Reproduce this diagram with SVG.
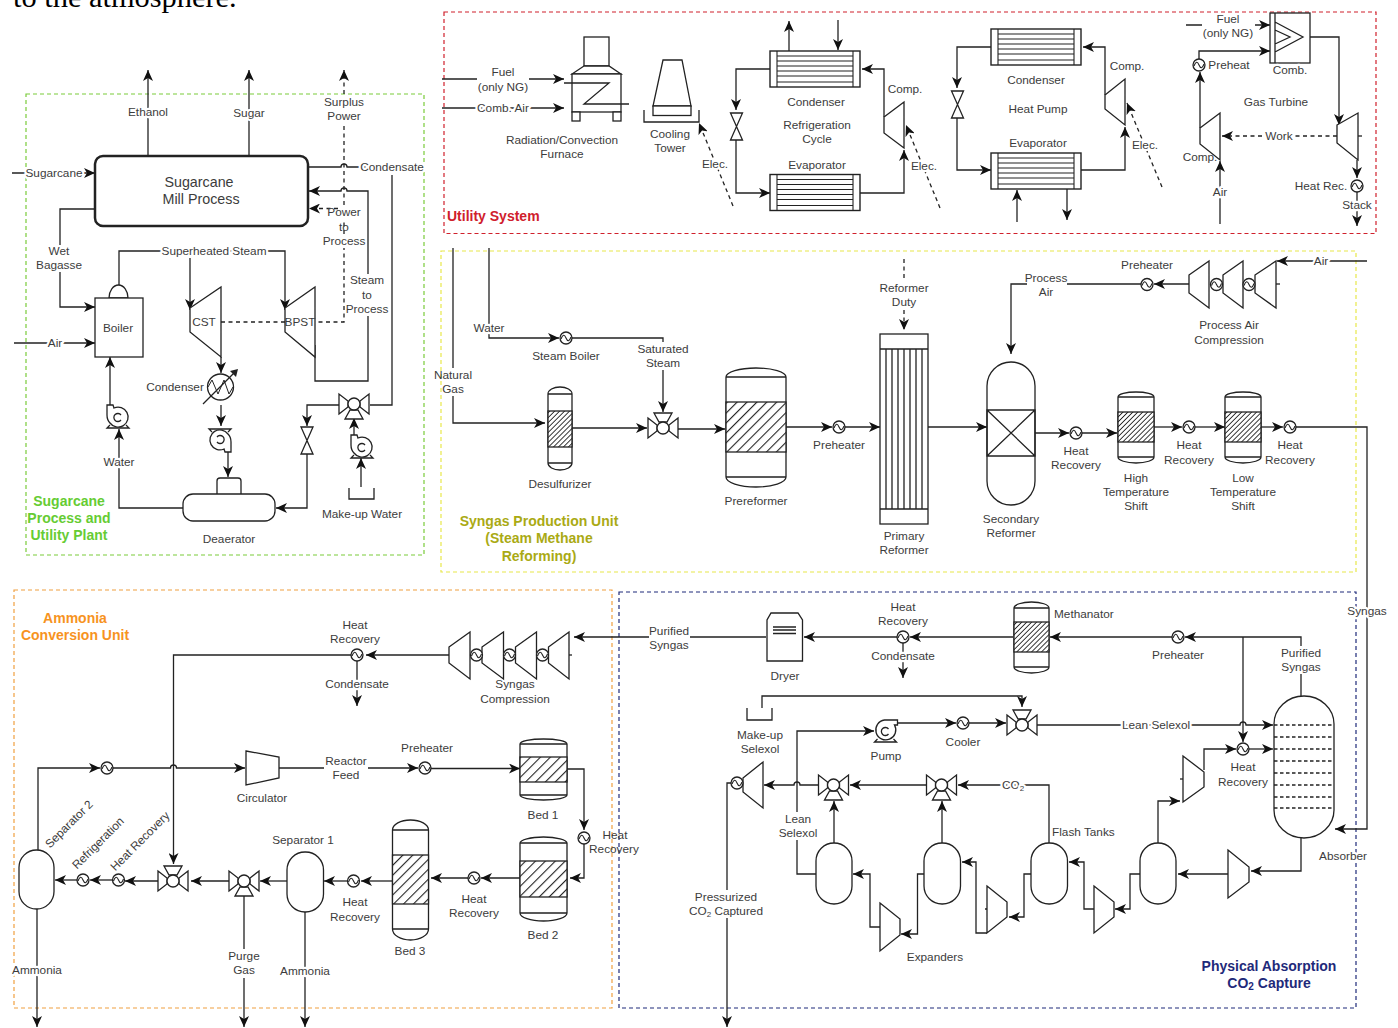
<svg xmlns="http://www.w3.org/2000/svg" width="1398" height="1028" viewBox="0 0 1398 1028">
<style>
text{font-family:"Liberation Sans",Arial,sans-serif;fill:#3c3c3c;font-size:11.8px;text-anchor:middle;dominant-baseline:central;stroke:#fff;stroke-width:4.5px;paint-order:stroke;stroke-linejoin:round}
text.n{stroke:none}
text.b{font-weight:bold;font-size:14px;stroke:none}
text.s{text-anchor:start}
.box{fill:none;stroke-width:1.2;stroke-dasharray:4 3}
.c{fill:none;stroke:#222;stroke-width:1.3}
.a{marker-end:url(#arr)}
.d{stroke-dasharray:4 3.5}
.g,.g *{fill:#fff;stroke:#222;stroke-width:1.3}
.l{fill:none;stroke:#222;stroke-width:1.3}
.hb{fill:url(#hatch);stroke:#222;stroke-width:1.3}
.hs{fill:url(#hatchS);stroke:#222;stroke-width:1.3}
</style>
<defs>
<marker id="arr" markerUnits="userSpaceOnUse" markerWidth="11" markerHeight="10" viewBox="0 0 11 10" refX="11" refY="5" orient="auto"><path d="M0,0L11,5L0,10L3,5Z" fill="#111"/></marker>
<pattern id="hatch" patternUnits="userSpaceOnUse" width="7" height="7" patternTransform="rotate(45)"><rect width="7" height="7" fill="#fff"/><rect width="1.1" height="7" fill="#222"/></pattern>
<pattern id="hatchS" patternUnits="userSpaceOnUse" width="3.5" height="3.5" patternTransform="rotate(45)"><rect width="3.5" height="3.5" fill="#fff"/><rect width="0.9" height="3.5" fill="#222"/></pattern>
<g id="hx"><circle r="6" fill="#fff" stroke="#222" stroke-width="1.3"/><path d="M-5,1Q-2.5,-6 0,0T5,-1" fill="none" stroke="#222" stroke-width="1.1"/></g>
<g id="v3"><path d="M-15,-10L-6,-3V3L-15,10ZM15,-10L6,-3V3L15,10Z" fill="#fff" stroke="#222" stroke-width="1.3"/><path d="M-9,-15H9L4,-6H-4Z" fill="#fff" stroke="#222" stroke-width="1.3"/><circle r="6" fill="#fff" stroke="#222" stroke-width="1.3"/></g>
<path id="gate" d="M-6,-13.5H6L-6,13.5H6Z" fill="#fff" stroke="#222" stroke-width="1.3"/>
<g id="pump" fill="#fff" stroke="#222" stroke-width="1.3"><path d="M-8,8L-11,11H11L8,8"/><path d="M-11,-12H-5L-4,-9A10,10 0 1 1 -8,6Q-11,3 -11,-2Z"/><path d="M3,-2A4,4 0 1 0 3,3" fill="none"/></g>
<g id="pumpH" fill="#fff" stroke="#222" stroke-width="1.3"><path d="M-8,8L-11,11H11L8,8"/><path d="M12,-11V-6H9A10,10 0 1 1 -1,-11Z"/><path d="M3,-2A4,4 0 1 0 3,3" fill="none"/></g>
<g id="stx"><rect width="90" height="36" fill="#fff" stroke="#222" stroke-width="1.4"/><path d="M7,0V36M83,0V36M7,5H83M7,10H83M7,15H83M7,20H83M7,25H83M7,31H83" stroke="#222" stroke-width="1.1" fill="none"/></g>
</defs>
<rect width="1398" height="1028" fill="#fff"/>
<text class="n s" x="13" y="-3" style="font-family:'Liberation Serif',serif;font-size:30.400px;fill:#000">to the atmosphere.</text>

<g id="unit-boxes">
<rect class="box" x="26" y="94" width="398" height="461" stroke="#7acb3a"/>
<rect class="box" x="444" y="12" width="932" height="221.500" stroke="#d0202c"/>
<rect class="box" x="441" y="251" width="915" height="321" stroke="#e8e84a"/>
<rect class="box" x="14" y="590" width="598" height="418" stroke="#f0a040"/>
<rect class="box" x="619" y="592" width="737" height="416" stroke="#1f2a7a"/>
</g>

<g id="connectors">
<path class="c a" d="M148,155V70"/>
<path class="c a" d="M249,155V70"/>
<path class="c d a" d="M221,322H344V248M344,234V221M344,205V124M344,94V70"/>
<path class="c d a" d="M338,208.500H309"/>
<path class="c" d="M308,167H341a3,3 0 0 1 6,0H390M392,175V405H370"/>
<path class="c a" d="M315,345V381H368V316M368,274V191H347a3,3 0 0 0 -6,0H309"/>
<path class="c a" d="M12,173H95"/>
<path class="c a" d="M95,209H60V245M60,272V307H95"/>
<path class="c a" d="M119,285V251H285V310"/>
<path class="c a" d="M190,258V310"/>
<path class="c a" d="M14,343H95"/>
<path class="c a" d="M221,357V373"/>
<path class="c a" d="M221,405V426"/>
<path class="c a" d="M228,451V477"/>
<path class="c a" d="M183,508H119V429"/>
<path class="c a" d="M110,405V357"/>
<path class="c a" d="M339,405H307V426"/>
<path class="c a" d="M307,454V508H276"/>
<path class="c a" d="M354,435V418"/>
<path class="c a" d="M361,487V458"/>

<path class="c a" d="M442,79H477M529,79H564"/>
<path class="c a" d="M442,108H564"/>
<path class="c d a" d="M733,206L699,123"/>
<path class="c a" d="M789,51V21"/>
<path class="c a" d="M838,20V50"/>
<path class="c a" d="M770,69H736V110"/>
<path class="c a" d="M736,140V193H770"/>
<path class="c a" d="M860,193H904V150"/>
<path class="c a" d="M884,117V69H862"/>
<path class="c d a" d="M940,208L906,125"/>
<path class="c a" d="M991,47H957V88"/>
<path class="c a" d="M957,118V170H991"/>
<path class="c a" d="M1081,170H1125V127"/>
<path class="c a" d="M1105,95V47H1083"/>
<path class="c d a" d="M1162,187L1127,103"/>
<path class="c a" d="M1017,222V190"/>
<path class="c a" d="M1067,188V220"/>
<path class="c a" d="M1186,25H1202M1255,25H1270"/>
<path class="c a" d="M1199,59V51H1270"/>
<path class="c a" d="M1200,128V72"/>
<path class="c a" d="M1220,224V161"/>
<path class="c d a" d="M1337,136H1222"/>
<path class="c d" d="M1358,136H1362"/>
<path class="c a" d="M1310,37H1339V125"/>
<path class="c a" d="M1357,160V178"/>
<path class="c a" d="M1357,192V226"/>

<path class="c a" d="M453,248V368M453,396V423H545"/>
<path class="c a" d="M489,248V338H559"/>
<path class="c a" d="M572,338H663V342M663,370V412"/>
<path class="c a" d="M572,428H647"/>
<path class="c a" d="M678,429H725"/>
<path class="c a" d="M786,427H832"/>
<path class="c a" d="M845,427H880"/>
<path class="c a" d="M928,427H987"/>
<path class="c d a" d="M904,259V281M904,310V330"/>
<path class="c a" d="M1141,284H1067M1027,284H1011V354"/>
<path class="c a" d="M1189,284H1154"/>
<path class="c a" d="M1367,261H1277"/>
<path class="c" d="M1276,284H1280"/>
<path class="c a" d="M1035,433H1069"/>
<path class="c a" d="M1082,433H1117"/>
<path class="c a" d="M1154,427H1182"/>
<path class="c a" d="M1195,427H1225"/>
<path class="c a" d="M1261,427H1283"/>
<path class="c a" d="M1296,427H1367V829H1335"/>

<path class="c a" d="M766,637H690M649,637H574"/>
<path class="c" d="M569,655H572"/>
<path class="c a" d="M449,655H366"/>
<path class="c a" d="M351,655H173.500V864"/>
<path class="c a" d="M357,661V706"/>
<path class="c a" d="M38,850V768H100"/>
<path class="c a" d="M113,768H170.500a3,3 0 0 1 6,0H245"/>
<path class="c a" d="M279,768H324M368,768H418"/>
<path class="c a" d="M431,768.500H520"/>
<path class="c a" d="M567,769H584V830"/>
<path class="c a" d="M584,844V878H570"/>
<path class="c a" d="M520,878H481"/>
<path class="c a" d="M468,878H431"/>
<path class="c a" d="M392,881H361"/>
<path class="c a" d="M347,881H324"/>
<path class="c a" d="M287,881H260"/>
<path class="c a" d="M229,881H191"/>
<path class="c a" d="M158,881H125"/>
<path class="c a" d="M112,880H90"/>
<path class="c a" d="M77,880H55"/>
<path class="c a" d="M244,895V949M244,978V1027"/>
<path class="c a" d="M305,912V1027"/>
<path class="c a" d="M37,909V1027"/>

<path class="c a" d="M1013,637H910"/>
<path class="c a" d="M897,637H804"/>
<path class="c a" d="M903,643V678"/>
<path class="c a" d="M1301,696V674M1301,646V637H1185"/>
<path class="c a" d="M1172,637H1050"/>
<path class="c a" d="M1243,637V742"/>
<path class="c a" d="M1037,725H1240a3,3 0 0 1 6,0H1273"/>
<path class="c a" d="M1249,749H1273"/>
<path class="c a" d="M1204,770V749H1236"/>
<path class="c a" d="M1158,843V801H1180"/>
<path class="c" d="M1180,779H1183"/>
<path class="c a" d="M762,708V696H1022V707"/>
<path class="c a" d="M816,874H797V840M797,812V731H874"/>
<path class="c a" d="M898,723H956"/>
<path class="c a" d="M969,723H1006"/>
<path class="c a" d="M926,785H850"/>
<path class="c a" d="M818,785H800a3,3 0 0 0 -6,0H764"/>
<path class="c a" d="M1049,844V785H958"/>
<path class="c a" d="M834,843V801"/>
<path class="c a" d="M942,843V801"/>
<path class="c a" d="M731,783H727V890M727,918V1027"/>
<path class="c a" d="M1301,838V871H1251"/>
<path class="c a" d="M1228,874H1178"/>
<path class="c a" d="M1140,874H1130V909H1115"/>
<path class="c a" d="M1094,909H1084V862H1069"/>
<path class="c a" d="M1031,874H1024V917H1009"/>
<path class="c" d="M985,909H987"/>
<path class="c a" d="M987,933H976V862H962"/>
<path class="c a" d="M925,874H917.500V934H901"/>
<path class="c a" d="M880,927H870V874H853"/>
</g>

<g id="stream-labels">
<text x="148" y="112">Ethanol</text>
<text x="249" y="113">Sugar</text>
<text class="n" x="344" y="102">Surplus</text><text class="n" x="344" y="116">Power</text>
<text x="392" y="167">Condensate</text>
<text x="54" y="173">Sugarcane</text>
<text class="n" x="59" y="251">Wet</text><text class="n" x="59" y="265">Bagasse</text>
<text class="n" x="344" y="212">Power</text><text class="n" x="344" y="227">to</text><text class="n" x="344" y="241">Process</text>
<text class="n" x="367" y="280">Steam</text><text class="n" x="367" y="295">to</text><text class="n" x="367" y="309">Process</text>
<text x="214" y="251">Superheated Steam</text>
<text x="55" y="343">Air</text>
<text x="119" y="462">Water</text>
<text class="n" x="503" y="72">Fuel</text><text class="n" x="503" y="87">(only NG)</text>
<text x="503" y="108">Comb. Air</text>
<text x="715" y="164">Elec.</text>
<text x="924" y="166">Elec.</text>
<text x="1145" y="145">Elec.</text>
<text class="n" x="1228" y="19">Fuel</text><text class="n" x="1228" y="33">(only NG)</text>
<text x="1220" y="192">Air</text>
<text x="1279" y="136">Work</text>
<text x="1357" y="205">Stack</text>
<text class="n" x="453" y="375">Natural</text><text class="n" x="453" y="389">Gas</text>
<text x="489" y="328">Water</text>
<text class="n" x="663" y="349">Saturated</text><text class="n" x="663" y="363">Steam</text>
<text class="n" x="904" y="288">Reformer</text><text class="n" x="904" y="302">Duty</text>
<text class="n" x="1046" y="278">Process</text><text class="n" x="1046" y="292">Air</text>
<text x="1321" y="261">Air</text>
<text x="1367" y="611">Syngas</text>
<text class="n" x="669" y="631">Purified</text><text class="n" x="669" y="645">Syngas</text>
<text x="357" y="684">Condensate</text>
<text class="n" x="346" y="761">Reactor</text><text class="n" x="346" y="775">Feed</text>
<text class="n" x="244" y="956">Purge</text><text class="n" x="244" y="970">Gas</text>
<text x="305" y="971">Ammonia</text>
<text x="37" y="970">Ammonia</text>
<text class="n" x="1301" y="653">Purified</text><text class="n" x="1301" y="667">Syngas</text>
<text x="903" y="656">Condensate</text>
<text x="1156" y="725">Lean Selexol</text>
<text class="n" x="798" y="819">Lean</text><text class="n" x="798" y="833">Selexol</text>
<text x="1013" y="785">CO<tspan dy="3" font-size="8">2</tspan></text>
<text class="n" x="726" y="897">Pressurized</text><text class="n" x="726" y="911">CO<tspan dy="3" font-size="8">2</tspan><tspan dy="-3"> Captured</tspan></text>
</g>

<g id="mill"><rect x="95" y="156" width="213" height="70" rx="8" fill="#fff" stroke="#222" stroke-width="2.5"/><text class="n" x="199" y="182" style="font-size:14.300px">Sugarcane</text><text class="n" x="201" y="199" style="font-size:14.300px">Mill Process</text></g>
<g id="boiler" class="g"><path d="M109,298A9.500,13 0 0 1 128,298Z"/><rect x="95" y="298" width="48" height="59"/></g><text class="n" x="118" y="328">Boiler</text>
<g id="cst"><polygon class="g" points="190,308 221,287 221,357 190,332"/><text class="n" x="204" y="322">CST</text></g>
<g id="bpst"><polygon class="g" points="285,308 315,287 315,357 285,332"/><text class="n" x="300" y="322">BPST</text></g>
<g id="condenser"><circle cx="220.500" cy="387" r="13" fill="#fff" stroke="#222" stroke-width="1.3"/><path class="l" style="stroke-width:1" d="M208,387L212,380L218,394L224,380L229,394L233,387"/><path class="l" d="M203,404L235,372"/><path d="M238,369L236,377L230,371Z" fill="#222"/><text x="175" y="387">Condenser</text></g>
<g id="pump-water"><use href="#pump" transform="translate(118,417)"/></g>
<g id="pump-cond"><use href="#pump" transform="translate(220,440) scale(-1,-1)"/></g>
<g id="pump-makeup"><use href="#pump" transform="translate(362,447)"/></g>
<g id="deaerator" class="g"><rect x="217" y="478" width="24" height="20" rx="3"/><rect x="183" y="494" width="92" height="27" rx="10"/></g><text class="n" x="229" y="539">Deaerator</text>
<g id="mix-steam"><use href="#v3" transform="translate(354,404) scale(1,-1)"/></g>
<g id="valve-steam"><use href="#gate" x="307" y="440.500"/></g>
<g id="tray-makeup"><path class="l" d="M349,488V499H374V488"/><text x="362" y="514">Make-up Water</text></g>
<text class="b" x="69" y="501" style="fill:#66cc33">Sugarcane</text><text class="b" x="69" y="518" style="fill:#66cc33">Process and</text><text class="b" x="69" y="535" style="fill:#66cc33">Utility Plant</text>

<g id="furnace"><g class="g"><rect x="584" y="37" width="25" height="29"/><path d="M584,66L572,74H621L609,66Z"/><rect x="572" y="74" width="49" height="38"/><rect x="572" y="112" width="8" height="9"/><rect x="613" y="112" width="8" height="9"/></g><path class="l" d="M564,83H609L584,104H629"/><text x="562" y="140">Radiation/Convection</text><text x="562" y="154">Furnace</text></g>
<g id="cooling-tower"><g class="g"><path d="M663,60H682L691,106H653Z"/><rect x="653" y="106" width="38" height="9.500"/></g><path class="l" d="M644,110V122H699V110"/><text x="670" y="134">Cooling</text><text x="670" y="148">Tower</text></g>
<g id="ref-condenser"><use href="#stx" x="770" y="51"/><text x="816" y="102">Condenser</text></g>
<g id="ref-evaporator"><use href="#stx" x="770" y="174.500"/><text x="817" y="165">Evaporator</text></g>
<g id="ref-valve"><use href="#gate" x="736.500" y="126.500"/></g>
<g id="ref-comp"><polygon class="g" points="884,117 904,102 904,148 884,133"/><text x="905" y="89">Comp.</text></g>
<text class="n" x="817" y="125">Refrigeration</text><text class="n" x="817" y="139">Cycle</text>
<g id="hp-condenser"><use href="#stx" x="991" y="29"/><text x="1036" y="80">Condenser</text></g>
<g id="hp-evaporator"><use href="#stx" x="991" y="153"/><text x="1038" y="143">Evaporator</text></g>
<g id="hp-valve"><use href="#gate" x="957.500" y="104.500"/></g>
<g id="hp-comp"><polygon class="g" points="1105,95 1125,79 1125,125 1105,109"/><text x="1127" y="66">Comp.</text></g>
<text class="n" x="1038" y="109">Heat Pump</text>
<g id="gt-comb"><rect x="1270" y="13" width="40" height="50" fill="#fff" stroke="#222" stroke-width="1.3"/><path class="l" d="M1275,13V63M1275,22L1303,37L1275,52M1275,30L1290,37L1275,44"/><text x="1290" y="70">Comb.</text></g>
<g id="gt-preheat"><use href="#hx" x="1199" y="65"/><text class="n" x="1229" y="65">Preheat</text></g>
<g id="gt-comp"><polygon class="g" points="1200,128 1220,113 1220,160 1200,144"/><text class="n" x="1200" y="157">Comp.</text></g>
<g id="gt-turbine"><polygon class="g" points="1337,125 1358,113 1358,160 1337,143"/></g>
<g id="gt-heatrec"><use href="#hx" x="1357" y="186"/><text x="1321" y="186">Heat Rec.</text></g>
<text class="n" x="1276" y="102">Gas Turbine</text>
<text class="b s" x="447" y="216" style="fill:#d0202c">Utility System</text>

<g id="steam-boiler"><use href="#hx" x="566" y="338"/><text x="566" y="356">Steam Boiler</text></g>
<g id="desulfurizer"><path class="g" d="M548,394A12,7 0 0 1 572,394V463A12,7 0 0 1 548,463Z"/><path class="l" d="M548,394H572M548,463H572"/><rect class="hs" x="548" y="411" width="24" height="36"/><text x="560" y="484">Desulfurizer</text></g>
<g id="mix-steam2"><use href="#v3" x="663" y="428"/></g>
<g id="prereformer"><path class="g" d="M726,377A30,9 0 0 1 786,377V477A30,10 0 0 1 726,477Z"/><path class="l" d="M726,377H786M726,477H786"/><rect class="hb" x="726" y="402" width="60" height="50"/><text x="756" y="501">Prereformer</text></g>
<g id="preheater-1"><use href="#hx" x="839" y="427"/><text x="839" y="445">Preheater</text></g>
<g id="primary-reformer"><rect x="880" y="334" width="48" height="190" fill="#fff" stroke="#222" stroke-width="1.3"/><path class="l" d="M880,349H928M880,509H928M886,349V509M892,349V509M898,349V509M904,349V509M910,349V509M916,349V509M922,349V509"/><text x="904" y="536">Primary</text><text x="904" y="550">Reformer</text></g>
<g id="secondary-reformer"><rect x="987" y="362" width="48" height="143" rx="24" fill="#fff" stroke="#222" stroke-width="1.3"/><path class="l" d="M987,410H1035V456H987ZM987,410L1035,456M1035,410L987,456"/><text x="1011" y="519">Secondary</text><text x="1011" y="533">Reformer</text></g>
<g id="preheater-2"><use href="#hx" x="1147" y="284.500"/><text x="1147" y="265">Preheater</text></g>
<g id="air-comp"><polygon class="g" points="1189,275 1209,261 1209,308 1189,293"/><polygon class="g" points="1223,275 1243,261 1243,308 1223,293"/><polygon class="g" points="1255,275 1276,261 1276,308 1255,293"/><use href="#hx" x="1216.500" y="284.500"/><use href="#hx" x="1249" y="284.500"/><text x="1229" y="325">Process Air</text><text x="1229" y="340">Compression</text></g>
<g id="hr-1"><use href="#hx" x="1076" y="433"/><text x="1076" y="451">Heat</text><text x="1076" y="465">Recovery</text></g>
<g id="hts"><path class="g" d="M1118,397A18,5 0 0 1 1154,397V457A18,6 0 0 1 1118,457Z"/><path class="l" d="M1118,397H1154M1118,457H1154"/><rect class="hs" x="1118" y="412" width="36" height="30"/><text x="1136" y="478">High</text><text x="1136" y="492">Temperature</text><text x="1136" y="506">Shift</text></g>
<g id="hr-2"><use href="#hx" x="1189" y="427"/><text x="1189" y="445">Heat</text><text x="1189" y="460">Recovery</text></g>
<g id="lts"><path class="g" d="M1225,397A18,5 0 0 1 1261,397V457A18,6 0 0 1 1225,457Z"/><path class="l" d="M1225,397H1261M1225,457H1261"/><rect class="hs" x="1225" y="412" width="36" height="30"/><text x="1243" y="478">Low</text><text x="1243" y="492">Temperature</text><text x="1243" y="506">Shift</text></g>
<g id="hr-3"><use href="#hx" x="1290" y="427"/><text x="1290" y="445">Heat</text><text x="1290" y="460">Recovery</text></g>
<text class="b" x="539" y="521" style="fill:#aaaa14">Syngas Production Unit</text><text class="b" x="539" y="538" style="fill:#aaaa14">(Steam Methane</text><text class="b" x="539" y="556" style="fill:#aaaa14">Reforming)</text>

<text class="b" x="75" y="618" style="fill:#f7931e">Ammonia</text><text class="b" x="75" y="635" style="fill:#f7931e">Conversion Unit</text>
<g id="syngas-comp"><polygon class="g" points="449,647 470,632 470,679 449,663"/><polygon class="g" points="482,647 503.500,632 503.500,679 482,663"/><polygon class="g" points="515.500,647 536.500,632 536.500,679 515.500,663"/><polygon class="g" points="548.500,647 569,632 569,679 548.500,663"/><use href="#hx" x="476.500" y="655"/><use href="#hx" x="509.500" y="655"/><use href="#hx" x="542.500" y="655"/><text class="n" x="515" y="684">Syngas</text><text x="515" y="699">Compression</text></g>
<g id="hr-am"><use href="#hx" x="357" y="655"/><text x="355" y="625">Heat</text><text x="355" y="639">Recovery</text></g>
<g id="hx-recycle"><use href="#hx" x="107" y="768"/></g>
<g id="circulator"><polygon class="g" points="246,751 279,757 279,778 246,785"/><text x="262" y="798">Circulator</text></g>
<g id="preheater-am"><use href="#hx" x="425" y="768"/><text x="427" y="748">Preheater</text></g>
<g id="bed1"><path class="g" d="M520,744A23.500,5 0 0 1 567,744V795A23.500,5 0 0 1 520,795Z"/><path class="l" d="M520,744H567M520,795H567"/><rect class="hb" x="520" y="757" width="47" height="25"/><text x="543" y="815">Bed 1</text></g>
<g id="hr-bed"><use href="#hx" x="584" y="838"/><text class="n" x="615" y="835">Heat</text><text class="n" x="614" y="849">Recovery</text></g>
<g id="bed2"><path class="g" d="M520,843A23.500,6 0 0 1 567,843V913A23.500,8 0 0 1 520,913Z"/><path class="l" d="M520,843H567M520,913H567"/><rect class="hb" x="520" y="861" width="47" height="36"/><text x="543" y="935">Bed 2</text></g>
<g id="hr-bed2"><use href="#hx" x="474" y="878"/><text x="474" y="899">Heat</text><text x="474" y="913">Recovery</text></g>
<g id="bed3"><path class="g" d="M392.500,830A18,10 0 0 1 428.500,830V929A18,11 0 0 1 392.500,929Z"/><path class="l" d="M392.500,830H428.500M392.500,929H428.500"/><rect class="hb" x="392.500" y="855" width="36" height="49"/><text x="410" y="951">Bed 3</text></g>
<g id="hr-bed3"><use href="#hx" x="353.500" y="881"/><text x="355" y="902">Heat</text><text x="355" y="917">Recovery</text></g>
<g id="separator1"><rect x="287" y="852" width="36.500" height="60" rx="18" fill="#fff" stroke="#222" stroke-width="1.3"/><text x="303" y="840">Separator 1</text></g>
<g id="purge-valve"><use href="#v3" transform="translate(244,881) scale(1,-1)"/></g>
<g id="mix-am"><use href="#v3" x="173" y="881"/></g>
<g id="hx-hr"><use href="#hx" x="118.500" y="880"/></g>
<g id="hx-refrig"><use href="#hx" x="83" y="880"/></g>
<g id="separator2"><rect x="19" y="850" width="35" height="59" rx="17.500" fill="#fff" stroke="#222" stroke-width="1.3"/></g>
<text class="n" x="69" y="824" transform="rotate(-45 69 824)">Separator 2</text>
<text class="n" x="98" y="843" transform="rotate(-45 98 843)">Refrigeration</text>
<text class="n" x="140" y="841" transform="rotate(-45 140 841)">Heat Recovery</text>

<g id="dryer"><path class="g" d="M771,613H798L802.500,620V661H767V620Z"/><path class="l" d="M773,627H796M773,630H796M773,633.500H796"/><text x="785" y="676">Dryer</text></g>
<g id="hr-abs"><use href="#hx" x="903" y="637"/><text x="903" y="607">Heat</text><text x="903" y="621">Recovery</text></g>
<g id="methanator"><path class="g" d="M1014,608A17.500,6 0 0 1 1049,608V667A17.500,6 0 0 1 1014,667Z"/><path class="l" d="M1014,608H1049M1014,667H1049"/><rect class="hs" x="1014" y="622" width="35" height="30"/><text class="s" x="1054" y="614">Methanator</text></g>
<g id="preheater-abs"><use href="#hx" x="1178" y="637"/><text x="1178" y="655">Preheater</text></g>
<g id="absorber"><rect x="1274" y="696" width="60" height="142" rx="30" ry="28" fill="#fff" stroke="#222" stroke-width="1.3"/><path class="l" stroke-dasharray="3.500 2.500" style="stroke-dasharray:3.500 2.500" d="M1274,725H1334M1274,737H1334M1274,749H1334M1274,761H1334M1274,773H1334M1274,785H1334M1274,797H1334M1274,808H1334"/><text x="1343" y="856">Absorber</text></g>
<g id="hr-abs2"><use href="#hx" x="1243" y="749"/><text x="1243" y="767">Heat</text><text x="1243" y="782">Recovery</text></g>
<g id="rich-comp"><polygon class="g" points="1183,756 1204,772 1204,787 1183,802"/></g>
<g id="mix-selexol"><use href="#v3" x="1022" y="725"/></g>
<g id="tray-selexol"><path class="l" d="M747,708V720H772V708"/><text x="760" y="735">Make-up</text><text x="760" y="749">Selexol</text></g>
<g id="pump-selexol"><use href="#pumpH" transform="translate(885.500,731)"/><text x="886" y="756">Pump</text></g>
<g id="cooler"><use href="#hx" x="963" y="723"/><text x="963" y="742">Cooler</text></g>
<g id="co2-mix1"><use href="#v3" transform="translate(833.500,785) scale(1,-1)"/></g>
<g id="co2-mix2"><use href="#v3" transform="translate(941.500,785) scale(1,-1)"/></g>
<g id="co2-comp"><polygon class="g" points="743,778 763,762 763,808 743,792"/><use href="#hx" x="737" y="783"/></g>
<g id="tank1"><rect x="816" y="843" width="36" height="61" rx="18" fill="#fff" stroke="#222" stroke-width="1.3"/></g>
<g id="tank2"><rect x="924" y="843" width="36.500" height="61" rx="18" fill="#fff" stroke="#222" stroke-width="1.3"/></g>
<g id="tank3"><rect x="1031" y="843" width="36.500" height="61" rx="18" fill="#fff" stroke="#222" stroke-width="1.3"/></g>
<g id="tank4"><rect x="1140" y="843" width="36" height="61" rx="18" fill="#fff" stroke="#222" stroke-width="1.3"/></g>
<text class="s" x="1052" y="832">Flash Tanks</text>
<g id="exp1"><polygon class="g" points="880,903 900,919 900,935 880,951"/></g>
<g id="exp2"><polygon class="g" points="987,886 1007,902 1007,917 987,933"/></g>
<g id="exp3"><polygon class="g" points="1094,886 1114,902 1114,917 1094,933"/></g>
<g id="exp4"><polygon class="g" points="1228,850 1249,867 1249,882 1228,898"/></g>
<text class="n" x="935" y="957">Expanders</text>
<text class="b" x="1269" y="966" style="fill:#1f2a7a">Physical Absorption</text>
<text class="b" x="1269" y="983" style="fill:#1f2a7a">CO<tspan dy="3" font-size="10">2</tspan><tspan dy="-3"> Capture</tspan></text>
</svg>
